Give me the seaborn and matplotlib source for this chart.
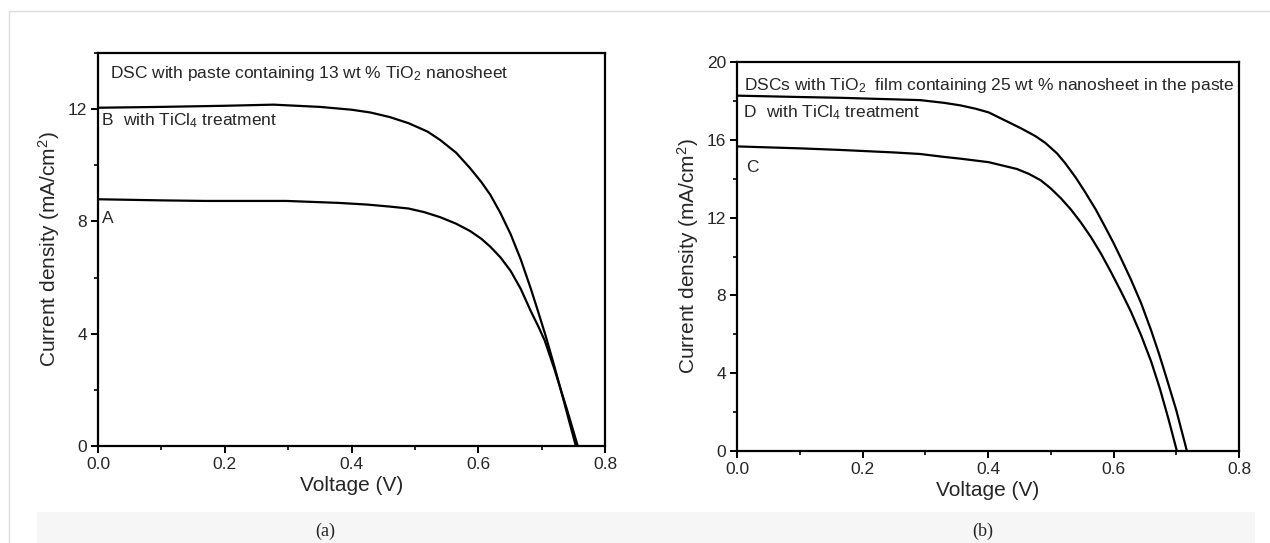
import numpy as np
import pandas as pd
import matplotlib
matplotlib.use("Agg")
import matplotlib.pyplot as plt
import seaborn as sns
from matplotlib.ticker import MultipleLocator, FormatStrFormatter

# J-V curves (voltage in V, current density in mA/cm2)
volt_b = [0.0, 0.1, 0.2, 0.277, 0.35, 0.40, 0.43, 0.46, 0.49, 0.52, 0.54, 0.565, 0.587,
          0.605, 0.619, 0.635, 0.651, 0.667, 0.683, 0.695, 0.706, 0.72, 0.735, 0.754]
curr_b = [12.05, 12.08, 12.12, 12.16, 12.08, 11.98, 11.88, 11.72, 11.5, 11.2, 10.9, 10.45, 9.9,
          9.4, 8.95, 8.3, 7.55, 6.65, 5.6, 4.75, 3.95, 2.85, 1.6, 0.0]
volt_a = [0.0, 0.1, 0.168, 0.297, 0.38, 0.425, 0.46, 0.49, 0.515, 0.54, 0.565, 0.587, 0.605,
          0.619, 0.635, 0.651, 0.667, 0.683, 0.695, 0.705, 0.72, 0.74, 0.757]
curr_a = [8.79, 8.75, 8.73, 8.73, 8.66, 8.6, 8.53, 8.46, 8.33, 8.15, 7.92, 7.66, 7.38,
          7.1, 6.72, 6.24, 5.6, 4.8, 4.25, 3.75, 2.75, 1.3, 0.0]

volt_d = [0.0, 0.1, 0.164, 0.25, 0.292, 0.33, 0.356, 0.38, 0.401, 0.43, 0.452, 0.475, 0.491,
          0.51, 0.523, 0.54, 0.555, 0.572, 0.587, 0.60, 0.612, 0.628, 0.644, 0.66, 0.673,
          0.685, 0.70, 0.717]
curr_d = [18.27, 18.2, 18.16, 18.08, 18.04, 17.9, 17.77, 17.6, 17.41, 16.95, 16.6, 16.2, 15.85,
          15.3, 14.8, 14.05, 13.3, 12.4, 11.5, 10.7, 9.9, 8.8, 7.6, 6.2, 4.95,
          3.7, 2.1, 0.0]
volt_c = [0.0, 0.1, 0.164, 0.25, 0.292, 0.33, 0.356, 0.401, 0.446, 0.465, 0.484, 0.50, 0.516,
          0.532, 0.548, 0.564, 0.580, 0.596, 0.612, 0.628, 0.644, 0.66, 0.674, 0.688, 0.701]
curr_c = [15.66, 15.56, 15.48, 15.35, 15.27, 15.12, 15.03, 14.85, 14.5, 14.25, 13.92, 13.5, 13.0,
          12.42, 11.75, 11.0, 10.15, 9.2, 8.2, 7.15, 5.95, 4.6, 3.2, 1.6, 0.0]

sns.set_style("ticks")
plt.rcParams['font.family'] = ['Liberation Sans', 'DejaVu Sans']
plt.rcParams['mathtext.default'] = 'regular'

df_a = pd.concat([pd.DataFrame({'V': volt_a, 'J': curr_a, 'cell': 'A'}),
                  pd.DataFrame({'V': volt_b, 'J': curr_b, 'cell': 'B'})])
df_b = pd.concat([pd.DataFrame({'V': volt_c, 'J': curr_c, 'cell': 'C'}),
                  pd.DataFrame({'V': volt_d, 'J': curr_d, 'cell': 'D'})])

fig = plt.figure(figsize=(12.7, 5.43), dpi=100)
W, H = 1270, 543

# light frame and caption strip
fig.add_artist(plt.Line2D([9 / W, 1], [1 - 11 / H, 1 - 11 / H], color='#dddddd', lw=1))
fig.add_artist(plt.Line2D([9 / W, 9 / W], [0, 1 - 11 / H], color='#dddddd', lw=1))
fig.add_artist(plt.Rectangle((37 / W, 0), (1255 - 37) / W, 31 / H, color='#f6f6f6', lw=0, zorder=0))


def box(l, t, r, b):
    return [l / W, 1 - b / H, (r - l) / W, (b - t) / H]


ax1 = fig.add_axes(box(98, 53, 605, 446))
ax2 = fig.add_axes(box(737, 62, 1239, 451))

sns.lineplot(data=df_a, x='V', y='J', units='cell', estimator=None, color='black',
             lw=1.6, ax=ax1, sort=False)
sns.lineplot(data=df_b, x='V', y='J', units='cell', estimator=None, color='black',
             lw=1.6, ax=ax2, sort=False)

for ax, ymax in [(ax1, 14), (ax2, 20)]:
    ax.set_xlim(0, 0.8)
    ax.set_ylim(0, ymax)
    ax.xaxis.set_major_locator(MultipleLocator(0.2))
    ax.xaxis.set_minor_locator(MultipleLocator(0.1))
    ax.xaxis.set_major_formatter(FormatStrFormatter('%.1f'))
    ax.yaxis.set_major_locator(MultipleLocator(4))
    ax.yaxis.set_minor_locator(MultipleLocator(2))
    ax.tick_params(which='major', length=5, width=1.4, labelsize=12.5, pad=3, color='black')
    ax.tick_params(which='minor', length=3, width=1.2, color='black')
    ax.tick_params(top=False, right=False, which='both')
    for s in ax.spines.values():
        s.set_visible(True)
        s.set_linewidth(1.6)
        s.set_color('black')
    ax.set_xlabel('Voltage (V)', fontsize=15, labelpad=3)
    ax.set_ylabel('Current density (mA/cm$^2$)', fontsize=15, labelpad=4)

ax1.text(0.019, 13.27, 'DSC with paste containing 13 wt % TiO$_2$ nanosheet', fontsize=12.5, va='center')
ax1.text(0.006, 11.6, 'B', fontsize=12.5, va='center')
ax1.text(0.04, 11.6, 'with TiCl$_4$ treatment', fontsize=12.5, va='center')
ax1.text(0.006, 8.1, 'A', fontsize=12.5, va='center')

ax2.text(0.011, 18.8, 'DSCs with TiO$_2$  film containing 25 wt % nanosheet in the paste', fontsize=12.5, va='center')
ax2.text(0.011, 17.4, 'D', fontsize=12.5, va='center')
ax2.text(0.046, 17.4, 'with TiCl$_4$ treatment', fontsize=12.5, va='center')
ax2.text(0.015, 14.6, 'C', fontsize=12.5, va='center')

fig.text(325 / W, 1 - 531 / H, '(a)', fontsize=13, family='Liberation Serif', ha='center', va='center')
fig.text(983 / W, 1 - 531 / H, '(b)', fontsize=13, family='Liberation Serif', ha='center', va='center')

fig.savefig('out.png', dpi=100)
